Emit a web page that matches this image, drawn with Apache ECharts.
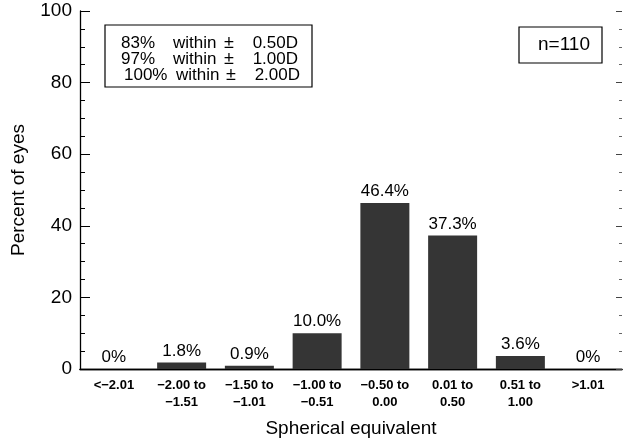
<!DOCTYPE html>
<html>
<head>
<meta charset="utf-8">
<script src="https://cdn.jsdelivr.net/npm/echarts@6/dist/echarts.min.js"></script>
<style>
html,body{margin:0;padding:0;background:#fff;}
#chart{width:623px;height:443px;}
</style>
</head>
<body>
<div id="chart"></div>
<script>
var categories = ['<\u22122.01', '\u22122.00 to\n\u22121.51', '\u22121.50 to\n\u22121.01', '\u22121.00 to\n\u22120.51', '\u22120.50 to\n0.00', '0.01 to\n0.50', '0.51 to\n1.00', '>1.01'];
var percentEyes = [0, 1.8, 0.9, 10.0, 46.4, 37.3, 3.6, 0];
var yTicks = [0, 20, 40, 60, 80, 100];
var summaryPct = ['83%', '97%', '100%'];
var summaryRange = ['0.50D', '1.00D', '2.00D'];
var sampleText = 'n=110';

var FONT = '"Liberation Sans", Arial, sans-serif';
var chart = echarts.init(document.getElementById('chart'));

var graphics = [];
// summary box
graphics.push({type:'rect', shape:{x:105, y:25, width:207, height:62}, style:{fill:'#fff', stroke:'#000', lineWidth:1.2}, z:10});
var lineY = [43, 59, 75];
var pctX = [121, 121, 124];
var withinX = [173, 173, 176];
var pmX = [229, 229, 231];
var rangeX = [298, 298, 300];
for (var i = 0; i < 3; i++) {
  graphics.push({type:'text', x:pctX[i], y:lineY[i], style:{text:summaryPct[i], font:'17px ' + FONT, fill:'#000', textAlign:'left', textVerticalAlign:'middle'}, z:11});
  graphics.push({type:'text', x:withinX[i], y:lineY[i], style:{text:'within', font:'17px ' + FONT, fill:'#000', textAlign:'left', textVerticalAlign:'middle'}, z:11});
  graphics.push({type:'text', x:pmX[i], y:lineY[i], style:{text:'\u00b1', font:'18px ' + FONT, fill:'#000', textAlign:'center', textVerticalAlign:'middle'}, z:11});
  graphics.push({type:'text', x:rangeX[i], y:lineY[i], style:{text:summaryRange[i], font:'17px ' + FONT, fill:'#000', textAlign:'right', textVerticalAlign:'middle'}, z:11});
}
// n box
graphics.push({type:'rect', shape:{x:519, y:27, width:83, height:36}, style:{fill:'#fff', stroke:'#000', lineWidth:1.2}, z:10});
graphics.push({type:'text', x:564, y:45, style:{text:sampleText, font:'19px ' + FONT, fill:'#000', textAlign:'center', textVerticalAlign:'middle'}, z:11});

chart.setOption({
  animation: false,
  backgroundColor: '#fff',
  grid: {left: 80, right: 1, top: 11, bottom: 71, containLabel: false},
  xAxis: [{
    type: 'category',
    data: categories,
    position: 'bottom',
    axisLine: {show: true, lineStyle: {color: '#000', width: 1.3}},
    axisTick: {show: false},
    axisLabel: {color: '#000', fontFamily: FONT, fontSize: 13, fontWeight: 'bold', lineHeight: 17, margin: 8, interval: 0},
    name: 'Spherical equivalent',
    nameLocation: 'middle',
    nameGap: 50,
    nameTextStyle: {color: '#000', fontFamily: FONT, fontSize: 19}
  }, {
    type: 'category',
    data: categories,
    position: 'top',
    axisLine: {show: true, lineStyle: {color: '#000', width: 1.3}},
    axisTick: {show: false},
    axisLabel: {show: false}
  }],
  yAxis: [{
    type: 'value',
    min: yTicks[0],
    max: yTicks[yTicks.length - 1],
    interval: 20,
    position: 'left',
    axisLine: {show: true, lineStyle: {color: '#000', width: 1.3}},
    axisTick: {show: true, inside: true, length: 10, lineStyle: {color: '#000'}},
    minorTick: {show: true, splitNumber: 4, length: 5, lineStyle: {color: '#000'}},
    splitLine: {show: false},
    axisLabel: {color: '#000', fontFamily: FONT, fontSize: 19, margin: 8},
    name: 'Percent of eyes',
    nameLocation: 'middle',
    nameGap: 52,
    nameTextStyle: {color: '#000', fontFamily: FONT, fontSize: 19}
  }, {
    type: 'value',
    min: yTicks[0],
    max: yTicks[yTicks.length - 1],
    interval: 20,
    position: 'right',
    axisLine: {show: false},
    axisTick: {show: true, inside: true, length: 6, lineStyle: {color: '#444'}},
    minorTick: {show: true, splitNumber: 4, length: 3, lineStyle: {color: '#666'}},
    splitLine: {show: false},
    axisLabel: {show: false}
  }],
  series: [{
    type: 'bar',
    data: percentEyes,
    barWidth: 49,
    itemStyle: {color: '#353535'},
    label: {
      show: true,
      position: 'top',
      distance: 3,
      color: '#000',
      fontFamily: FONT,
      fontSize: 17,
      formatter: function (p) { return p.value === 0 ? '0%' : p.value.toFixed(1) + '%'; }
    }
  }],
  graphic: graphics
});
</script>
</body>
</html>
